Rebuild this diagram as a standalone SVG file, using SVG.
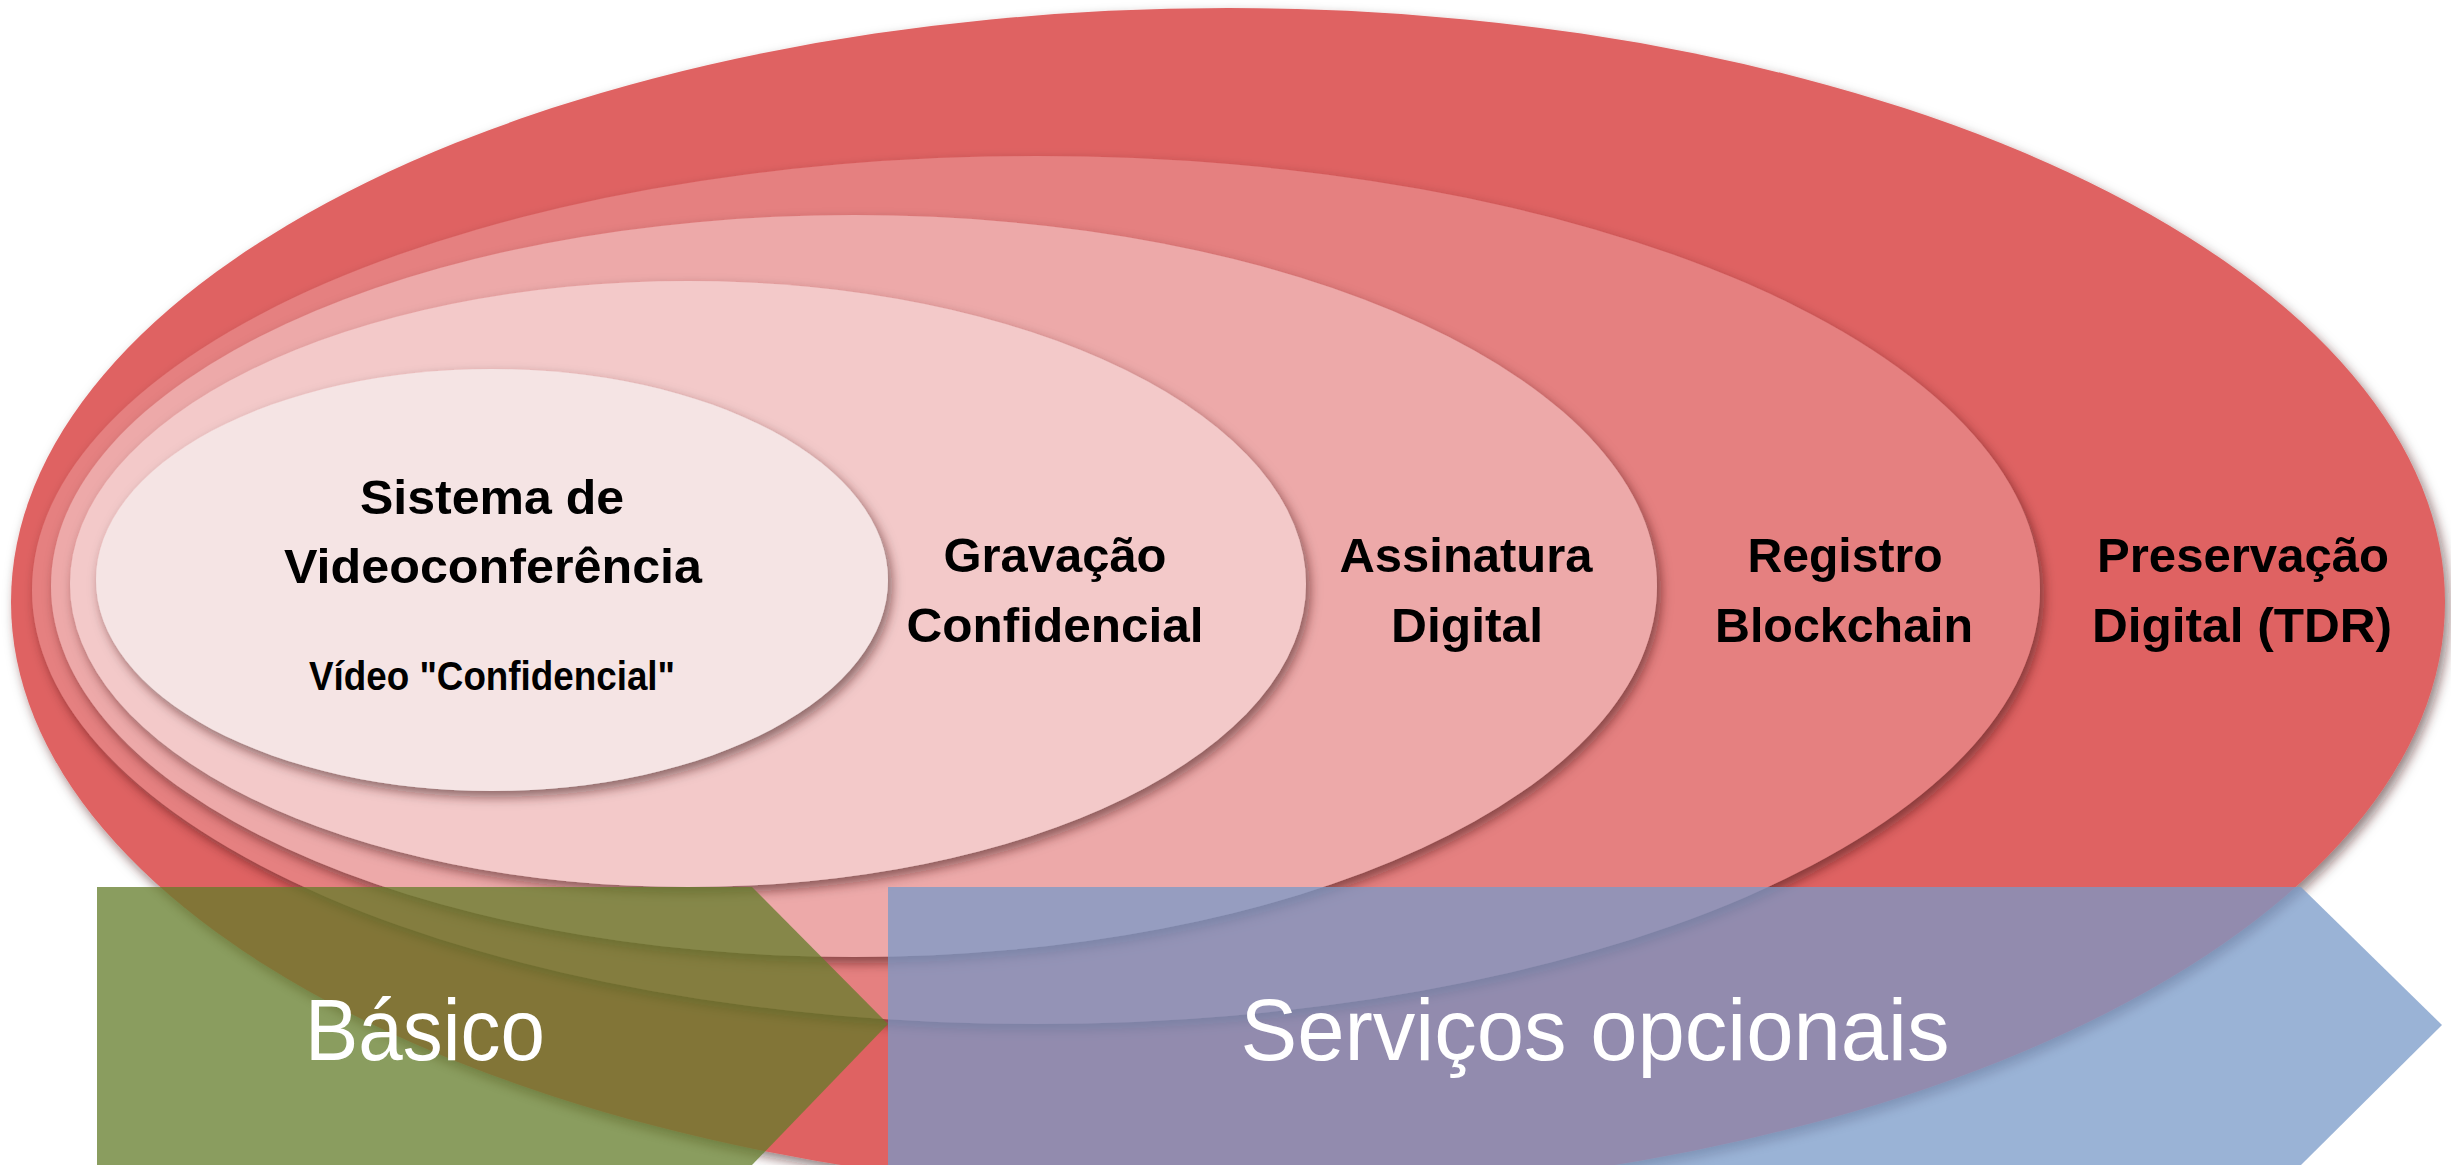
<svg xmlns="http://www.w3.org/2000/svg" width="2451" height="1165" viewBox="0 0 2451 1165">
<defs>
<filter id="sh" x="-10%" y="-10%" width="120%" height="125%">
<feDropShadow dx="4" dy="6" stdDeviation="6" flood-color="#3a1010" flood-opacity="0.55"/>
</filter>
<style>
.lbl{font-family:"Liberation Sans",Arial,sans-serif;font-weight:bold;font-size:48px;fill:#000;text-anchor:middle}
.sub{font-size:40px}
.big{font-family:"Liberation Sans",Arial,sans-serif;font-size:88px;fill:#fff;text-anchor:middle}
</style>
</defs>
<rect width="2451" height="1165" fill="#fff"/>
<g id="preservacao">
<ellipse cx="1228" cy="602" rx="1217" ry="594" fill="#DF6262" filter="url(#sh)"/>
<text class="lbl" x="2243" y="572" textLength="292" lengthAdjust="spacingAndGlyphs">Preservação</text>
<text class="lbl" x="2242" y="642" textLength="300" lengthAdjust="spacingAndGlyphs">Digital (TDR)</text>
</g>
<g id="registro">
<ellipse cx="1036" cy="590" rx="1004" ry="434" fill="#E58080" filter="url(#sh)"/>
<text class="lbl" x="1845" y="572" textLength="195" lengthAdjust="spacingAndGlyphs">Registro</text>
<text class="lbl" x="1844" y="642" textLength="258" lengthAdjust="spacingAndGlyphs">Blockchain</text>
</g>
<g id="assinatura">
<ellipse cx="854" cy="586" rx="803" ry="371" fill="#EDA9A9" filter="url(#sh)"/>
<text class="lbl" x="1466" y="572" textLength="253" lengthAdjust="spacingAndGlyphs">Assinatura</text>
<text class="lbl" x="1467" y="642" textLength="152" lengthAdjust="spacingAndGlyphs">Digital</text>
</g>
<g id="gravacao">
<ellipse cx="688" cy="584" rx="618" ry="303" fill="#F3C9C9" filter="url(#sh)"/>
<text class="lbl" x="1055" y="572" textLength="223" lengthAdjust="spacingAndGlyphs">Gravação</text>
<text class="lbl" x="1055" y="642" textLength="297" lengthAdjust="spacingAndGlyphs">Confidencial</text>
</g>
<g id="sistema">
<ellipse cx="492" cy="580" rx="396" ry="211" fill="#F5E4E4" filter="url(#sh)"/>
<text class="lbl" x="492" y="514" textLength="264" lengthAdjust="spacingAndGlyphs">Sistema de</text>
<text class="lbl" x="493" y="583" textLength="418" lengthAdjust="spacingAndGlyphs">Videoconferência</text>
<text class="lbl sub" x="492" y="690" textLength="366" lengthAdjust="spacingAndGlyphs">Vídeo "Confidencial"</text>
</g>
<g id="connectors"/>
<g id="basico">
<polygon points="97,887 752,887 888,1024 752,1165 97,1165" fill="#637C2A" fill-opacity="0.75"/>
<text class="big" x="425" y="1060" textLength="240" lengthAdjust="spacingAndGlyphs">Básico</text>
</g>
<g id="servicos">
<polygon points="888,887 2301,887 2442,1025 2301,1165 888,1165" fill="#789AC8" fill-opacity="0.75"/>
<text class="big" x="1595" y="1060" textLength="709" lengthAdjust="spacingAndGlyphs">Serviços opcionais</text>
</g>
</svg>
